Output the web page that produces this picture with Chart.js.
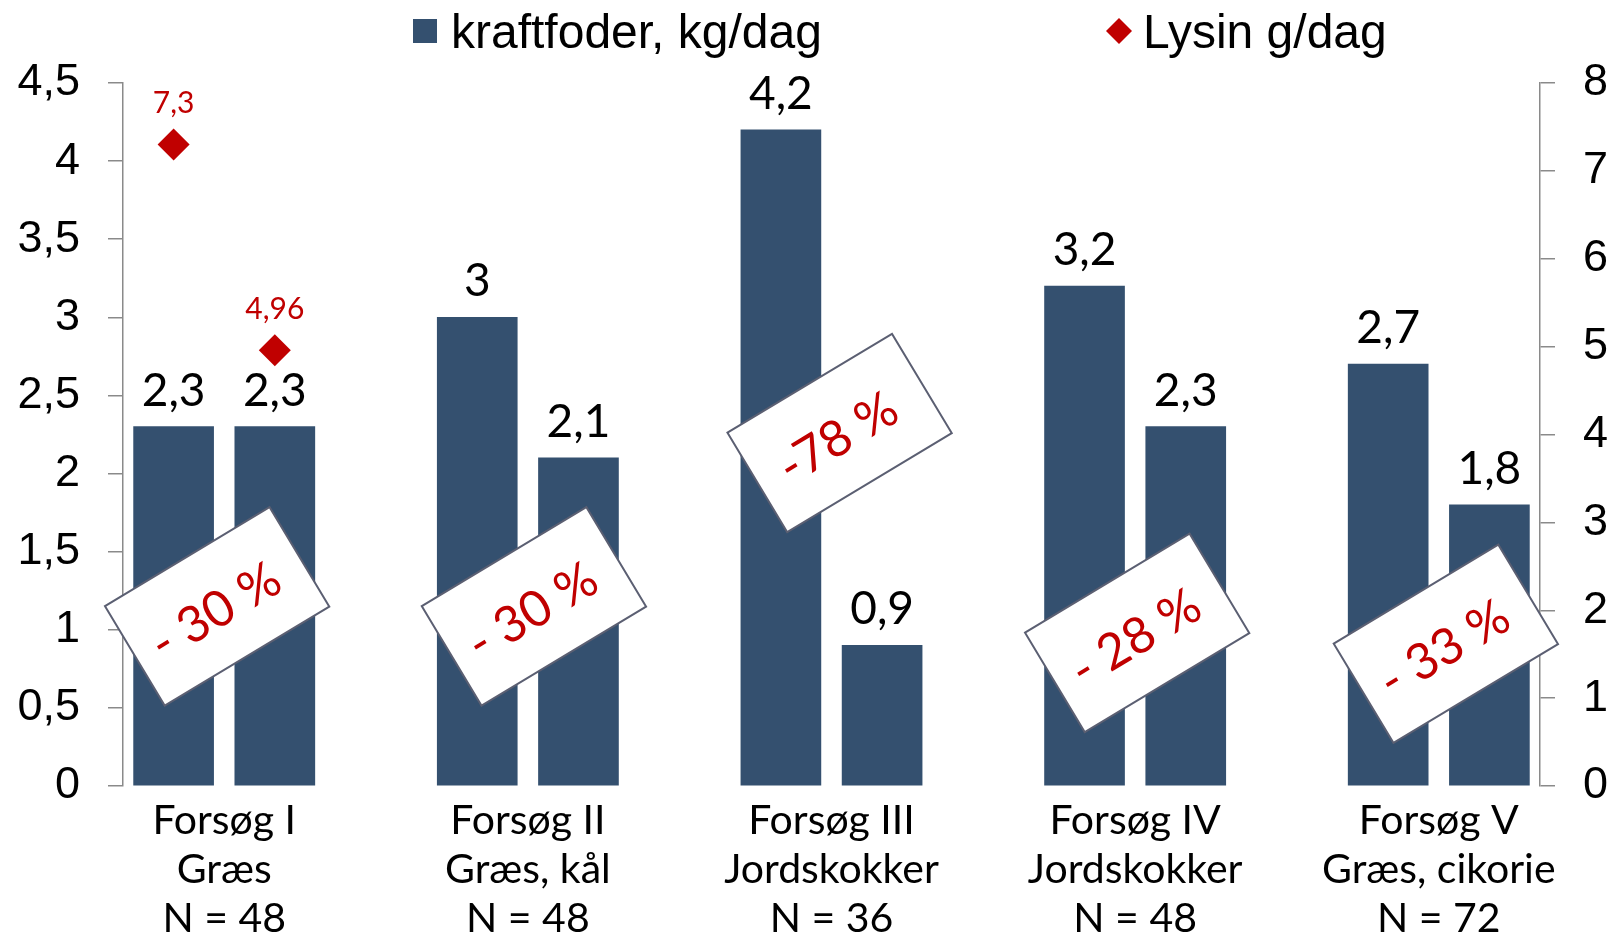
<!DOCTYPE html>
<html>
<head>
<meta charset="utf-8">
<script src="https://cdn.jsdelivr.net/npm/chart.js@4.4.0/dist/chart.umd.min.js"></script>
<style>
    html, body { margin: 0; padding: 0; background: #fff; }
    #wrap { width: 1618px; height: 937px; position: relative; }
</style>
</head>
<body>
<div id="wrap"><canvas id="myChart"></canvas></div>
<script>
// forsøg og tekst under x-aksen
var forsog = ['Forsøg I', 'Forsøg II', 'Forsøg III', 'Forsøg IV', 'Forsøg V'];
var afgrode = ['Græs', 'Græs, kål', 'Jordskokker', 'Jordskokker', 'Græs, cikorie'];
var antal = [48, 48, 36, 48, 72];

// to søjler pr. forsøg
var kraftfoder = [2.3, 2.3, 3, 2.1, 4.2, 0.9, 3.2, 2.3, 2.7, 1.8];
var lysin = [7.3, 4.96, null, null, null, null, null, null, null, null];

// reduktion i hvert forsøg
var reduktion = ['- 30 %', '- 30 %', '-78 %', '- 28 %', '- 33 %'];

// akse-ticks
var venstreTicks = [0, 0.5, 1, 1.5, 2, 2.5, 3, 3.5, 4, 4.5];
var hojreTicks = [0, 1, 2, 3, 4, 5, 6, 7, 8];

// placering af de skrå bokse (x i søjle-enheder, y paa venstre akse)
var boksPos = [
    { x: 0.43, y: 1.15 },
    { x: 3.56, y: 1.15 },
    { x: 6.58, y: 2.26 },
    { x: 9.52, y: 0.98 },
    { x: 12.57, y: 0.91 }
];

var BLAA = '#34506f';
var ROED = '#c00000';
var GRAA = '#8a8a8a';
var GOTHIC = 'Lato, "Noto Sans", sans-serif';
var ARIAL = '"Liberation Sans", Arial, sans-serif';

function komma(v) {
    return String(v).replace('.', ',');
}

// søjle nr i -> position paa x-aksen (mellemrum mellem forsøgene)
function pos(i) {
    return Math.floor(i / 2) * 3 + (i % 2);
}

var kraftData = kraftfoder.map(function(v, i) { return { x: pos(i), y: v }; });
var lysinData = [];
for (var i = 0; i < lysin.length; i++) {
    if (lysin[i] !== null) lysinData.push({ x: pos(i), y: lysin[i] });
}
var midter = forsog.map(function(f, i) { return i * 3 + 0.5; });

var etiketter = {
    id: 'etiketter',
    afterDatasetsDraw: function(chart) {
        var ctx = chart.ctx;
        ctx.save();
        ctx.textAlign = 'center';
        ctx.textBaseline = 'middle';
        ctx.font = '46px ' + GOTHIC;
        ctx.fillStyle = '#000';
        chart.getDatasetMeta(0).data.forEach(function(b, i) {
            ctx.fillText(komma(kraftData[i].y), b.x, b.y - 36);
        });
        ctx.font = '30px ' + GOTHIC;
        ctx.fillStyle = ROED;
        chart.getDatasetMeta(1).data.forEach(function(p, i) {
            ctx.fillText(komma(lysinData[i].y), p.x, p.y - 41);
        });
        ctx.restore();
    }
};

var bokse = {
    id: 'bokse',
    afterDraw: function(chart) {
        var ctx = chart.ctx;
        var xs = chart.scales.x, ys = chart.scales.y;
        ctx.save();
        for (var i = 0; i < reduktion.length; i++) {
            var cx = xs.getPixelForValue(boksPos[i].x);
            var cy = ys.getPixelForValue(boksPos[i].y);
            ctx.save();
            ctx.translate(cx, cy);
            ctx.rotate(-31 * Math.PI / 180);
            ctx.fillStyle = '#fff';
            ctx.fillRect(-96, -58, 192, 116);
            ctx.strokeStyle = '#5b5f72';
            ctx.lineWidth = 2;
            ctx.strokeRect(-96, -58, 192, 116);
            ctx.fillStyle = ROED;
            ctx.font = '50px ' + GOTHIC;
            ctx.textAlign = 'center';
            ctx.textBaseline = 'middle';
            ctx.fillText(reduktion[i], -4, 4);
            ctx.restore();
        }
        ctx.restore();
    }
};

var forklaring = {
    id: 'forklaring',
    afterDraw: function(chart) {
        var ctx = chart.ctx;
        var ds = chart.data.datasets;
        ctx.save();
        ctx.font = '48px ' + ARIAL;
        ctx.textBaseline = 'alphabetic';
        ctx.textAlign = 'left';
        // kraftfoder
        ctx.fillStyle = ds[0].backgroundColor;
        ctx.fillRect(413, 19, 24, 24);
        ctx.fillStyle = '#000';
        ctx.fillText(ds[0].label, 451, 48);
        // lysin
        ctx.fillStyle = ds[1].backgroundColor;
        ctx.beginPath();
        ctx.moveTo(1119, 18);
        ctx.lineTo(1132, 31);
        ctx.lineTo(1119, 44);
        ctx.lineTo(1106, 31);
        ctx.closePath();
        ctx.fill();
        ctx.fillStyle = '#000';
        ctx.fillText(ds[1].label, 1143, 48);
        ctx.restore();
    }
};

function yAkse(pos, min, max, ticks, bredde) {
    return {
        position: pos,
        min: min,
        max: max,
        afterBuildTicks: function(scale) {
            scale.ticks = ticks.map(function(v) { return { value: v }; });
        },
        afterFit: function(scale) {
            scale.width = bredde;
        },
        ticks: {
            color: '#000',
            font: { family: ARIAL, size: 45 },
            padding: 28,
            callback: function(v) { return komma(v); }
        },
        grid: {
            drawOnChartArea: false,
            tickLength: 15,
            color: GRAA,
            lineWidth: 1.5
        },
        border: { color: GRAA, width: 1.5 }
    };
}

const config = {
    type: 'bar',
    data: {
        datasets: [{
            type: 'bar',
            label: 'kraftfoder, kg/dag',
            data: kraftData,
            backgroundColor: BLAA,
            barThickness: 80,
            yAxisID: 'y',
            order: 2
        }, {
            type: 'line',
            label: 'Lysin g/dag',
            data: lysinData,
            showLine: false,
            pointStyle: 'rectRot',
            pointRadius: 16,
            pointBorderWidth: 0,
            backgroundColor: ROED,
            borderColor: ROED,
            yAxisID: 'y2',
            order: 1
        }]
    },
    options: {
        responsive: true,
        maintainAspectRatio: false,
        animation: false,
        layout: { padding: { top: 83, left: 0, right: 0, bottom: 0 } },
        plugins: {
            legend: { display: false },
            tooltip: { enabled: false }
        },
        scales: {
            x: {
                type: 'linear',
                min: -0.5,
                max: 13.5,
                offset: false,
                afterBuildTicks: function(scale) {
                    scale.ticks = midter.map(function(v) { return { value: v }; });
                },
                afterFit: function(scale) {
                    scale.height = 151;
                },
                ticks: {
                    autoSkip: false,
                    maxRotation: 0,
                    color: '#000',
                    padding: 2,
                    font: { family: GOTHIC, size: 41, lineHeight: 1.2 },
                    callback: function(v, i) {
                        return [forsog[i], afgrode[i], 'N = ' + antal[i]];
                    }
                },
                grid: { display: false },
                border: { display: false }
            },
            y: yAkse('left', 0, 4.5, venstreTicks, 123),
            y2: yAkse('right', 0, 8, hojreTicks, 78)
        }
    },
    plugins: [etiketter, bokse, forklaring]
};

const myChart = new Chart(document.getElementById('myChart'), config);
</script>
</body>
</html>
